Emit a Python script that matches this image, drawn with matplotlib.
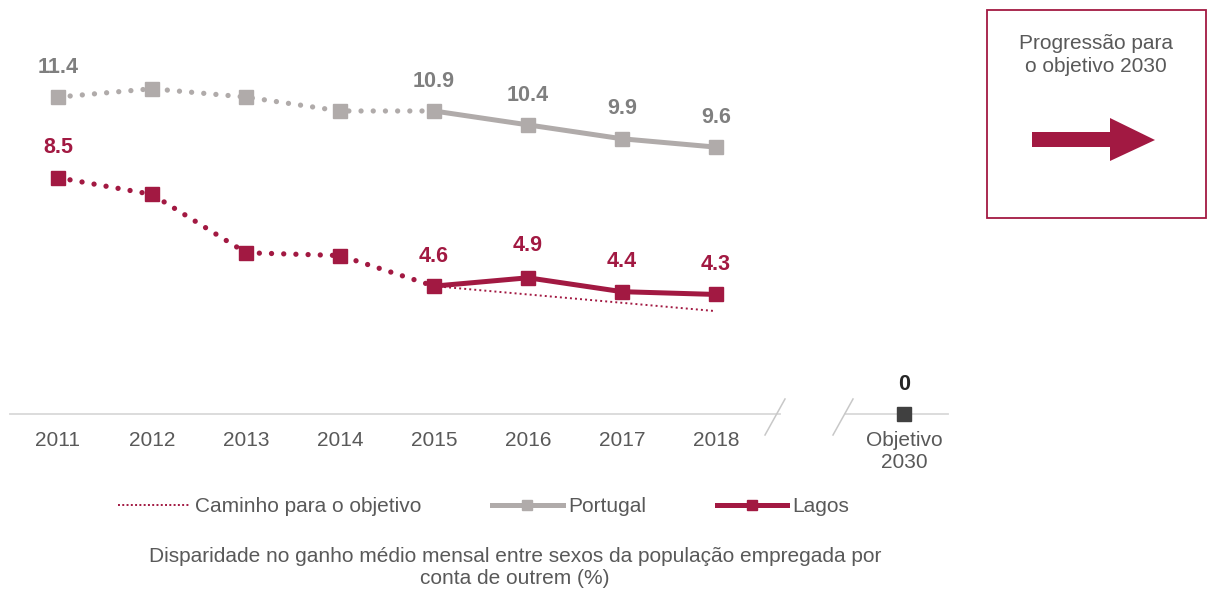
import matplotlib
matplotlib.use("Agg")
import matplotlib.pyplot as plt
from matplotlib.lines import Line2D
from matplotlib.patches import Rectangle, Polygon

plt.rcParams['font.family'] = ['Liberation Sans', 'DejaVu Sans']

years = ["2011", "2012", "2013", "2014", "2015", "2016", "2017", "2018"]
portugal = [11.4, 11.7, 11.4, 10.9, 10.9, 10.4, 9.9, 9.6]
lagos = [8.5, 7.9, 5.8, 5.7, 4.6, 4.9, 4.4, 4.3]
path_years = ["2015", "2016", "2017", "2018"]
path_vals = [4.6, 4.3, 4.0, 3.7]
objective_label = "Objetivo\n2030"
objective_val = 0

portugal_labels = {0: "11.4", 4: "10.9", 5: "10.4", 6: "9.9", 7: "9.6"}
lagos_labels = {0: "8.5", 4: "4.6", 5: "4.9", 6: "4.4", 7: "4.3"}

CRIMSON = "#A21942"
GRAY = "#B0ABAA"
GRAY_TXT = "#7F7F7F"
TXT = "#595959"
FS = 15
FSB = 15.5

W, H = 1208, 594
fig = plt.figure(figsize=(W / 100, H / 100), dpi=100)

px0, px1, py_top, py_bot = 10, 948, 20, 414
ax = fig.add_axes([px0 / W, 1 - py_bot / H, (px1 - px0) / W, (py_bot - py_top) / H])
xstep = 94.0
x_first = 58.0
ax.set_xlim((px0 - x_first) / xstep, (px1 - x_first) / xstep)
yscale = 27.8
ax.set_ylim(0, (py_bot - py_top) / yscale)
ax.axis("off")

xi = list(range(len(years)))
obj_x = 9
split = years.index("2015")

dot_style = dict(linestyle=(0, (0.01, 2.3)), dash_capstyle="round", lw=3.8)

# Portugal
ax.plot(xi[:split + 1], portugal[:split + 1], color=GRAY, **dot_style, zorder=3)
ax.plot(xi[split:], portugal[split:], color=GRAY, lw=3.6, solid_capstyle="butt", zorder=3)
ax.plot(xi, portugal, linestyle="none", marker="s", ms=9.5, color=GRAY, zorder=4)

# Lagos
ax.plot(xi[:split + 1], lagos[:split + 1], color=CRIMSON, **dot_style, zorder=3)
ax.plot(xi[split:], lagos[split:], color=CRIMSON, lw=3.6, solid_capstyle="butt", zorder=3)
ax.plot(xi, lagos, linestyle="none", marker="s", ms=9.5, color=CRIMSON, zorder=4)

# Path to objective
px_idx = [years.index(y) for y in path_years]
ax.plot(px_idx, path_vals, color=CRIMSON, linestyle=(0, (1, 1.6)), lw=1.4, zorder=2)

# data labels
for i, t in portugal_labels.items():
    ax.annotate(t, (xi[i], portugal[i]), xytext=(0, 21.5), textcoords="offset points",
                ha="center", va="center", fontsize=FSB, fontweight="bold", color=GRAY_TXT)
for i, t in lagos_labels.items():
    off = 23.5 if i == 5 else 21.5
    ax.annotate(t, (xi[i], lagos[i]), xytext=(0, off), textcoords="offset points",
                ha="center", va="center", fontsize=FSB, fontweight="bold", color=CRIMSON)

# objective marker
ax.plot([obj_x], [objective_val], linestyle="none", marker="s", ms=9.5, color="#404040",
        zorder=5, clip_on=False)
ax.annotate(str(objective_val), (obj_x, objective_val), xytext=(0, 21.5), textcoords="offset points",
            ha="center", va="center", fontsize=FSB, fontweight="bold", color="#262626")

# axis line with break
def tox(p):
    return (p - x_first) / xstep

AXC = "#D9D9D9"
ax.plot([tox(px0), tox(780)], [0, 0], color=AXC, lw=1.3, clip_on=False, zorder=1)
ax.plot([tox(845), tox(px1)], [0, 0], color=AXC, lw=1.3, clip_on=False, zorder=1)
for a, b in [((765, 435), (785, 399)), ((833, 435), (853, 399))]:
    ax.plot([tox(a[0]), tox(b[0])], [(py_bot - a[1]) / yscale, (py_bot - b[1]) / yscale],
            color="#C8C8C8", lw=1.1, clip_on=False, zorder=1)

# tick labels
for i, y in enumerate(years):
    ax.text(xi[i], -26 / yscale, y, ha="center", va="center", fontsize=FS, color=TXT)
ax.text(obj_x, -38 / yscale, objective_label, ha="center", va="center", fontsize=FS,
        color=TXT, linespacing=1.2)

# overlay in pixel coordinates
ov = fig.add_axes([0, 0, 1, 1], zorder=-1)
ov.set_xlim(0, W)
ov.set_ylim(H, 0)
ov.axis("off")
ov.add_patch(Rectangle((987, 10), 219, 208, fill=False, edgecolor=CRIMSON, lw=1.3))
ov.text(1096, 55, "Progressão para\no objetivo 2030", ha="center", va="center",
        fontsize=FS, color=TXT, linespacing=1.25)
ov.add_patch(Polygon([(1032, 132), (1110, 132), (1110, 118), (1155, 140),
                      (1110, 161), (1110, 147), (1032, 147)], closed=True,
                     facecolor=CRIMSON, edgecolor="none"))

# legend
handles = [
    Line2D([], [], color=CRIMSON, linestyle=(0, (1, 1.2)), lw=1.4),
    Line2D([], [], color=GRAY, lw=3.6, marker="s", ms=7),
    Line2D([], [], color=CRIMSON, lw=3.6, marker="s", ms=7),
]
labels = ["Caminho para o objetivo", "Portugal", "Lagos"]
fig.legend(handles, labels, loc="center", bbox_to_anchor=(484 / W, 1 - 507 / H), ncol=3,
           frameon=False, fontsize=FS, handlelength=3.4, handletextpad=0.25,
           columnspacing=3.4, numpoints=1, labelcolor=TXT)

fig.text(515 / W, 1 - 567 / H,
         "Disparidade no ganho médio mensal entre sexos da população empregada por\nconta de outrem (%)",
         ha="center", va="center", fontsize=FS, color=TXT, linespacing=1.2)

fig.savefig("out.png", dpi=100, facecolor="white")
